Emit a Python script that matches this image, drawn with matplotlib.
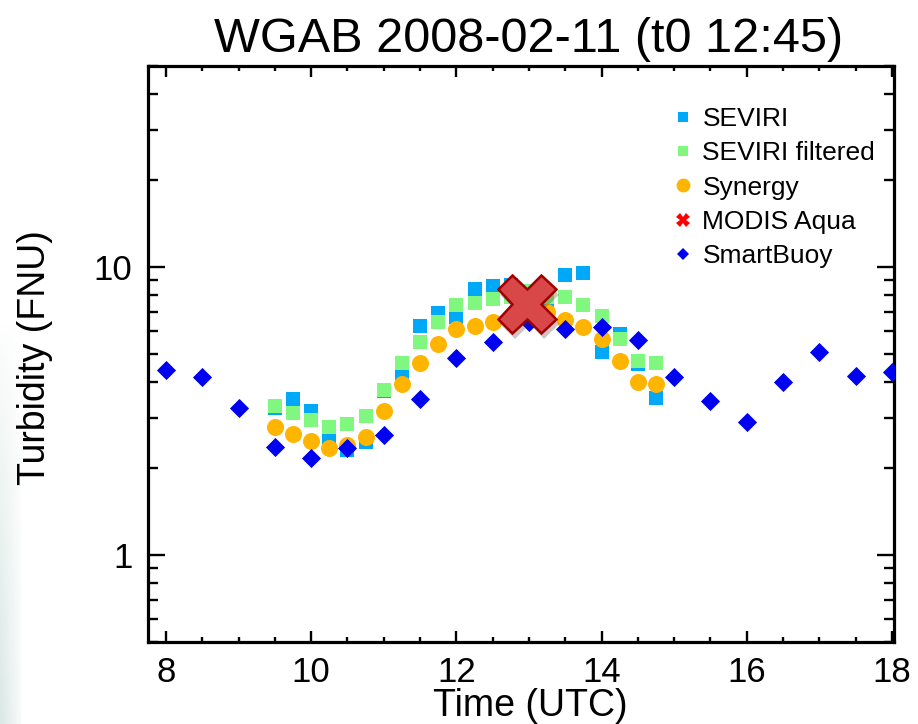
import numpy as np
import matplotlib
matplotlib.use("Agg")
from matplotlib import pyplot as plt
from matplotlib.lines import Line2D
from matplotlib.ticker import LogLocator, MultipleLocator, FixedLocator, NullFormatter
import matplotlib.patheffects as pe

plt.rcParams['font.family'] = ['Liberation Sans', 'DejaVu Sans']

# SEVIRI / Synergy time series (UTC hours)
t_sev = [9.5, 9.75, 10.0, 10.25, 10.5, 10.75, 11.0, 11.25, 11.5, 11.75, 12.0,
         12.25, 12.5, 12.75, 13.0, 13.25, 13.5, 13.75, 14.0, 14.25, 14.5, 14.75]
seviri = [3.24, 3.48, 3.17, 2.54, 2.31, 2.47, 3.72, 4.21, 6.24, 6.92, 6.69,
          8.42, 8.61, 8.7, 8.0, 7.62, 9.38, 9.52, 5.07, 5.85, 4.60, 3.50]
seviri_filt = [3.30, 3.11, 2.95, 2.79, 2.85, 3.04, 3.75, 4.64, 5.50, 6.46, 7.38,
               7.50, 7.74, 7.9, 8.28, 7.9, 7.85, 7.40, 6.77, 5.62, 4.73, 4.64]
synergy = [2.79, 2.63, 2.49, 2.36, 2.41, 2.58, 3.17, 3.92, 4.63, 5.40, 6.12,
           6.22, 6.43, 6.6, 6.8, 6.96, 6.56, 6.18, 5.65, 4.73, 4.00, 3.92]

# MODIS Aqua overpass
t_modis = [12.97]
modis = [7.45]

# SmartBuoy
t_buoy = [8.0, 8.5, 9.0, 9.5, 10.0, 10.5, 11.0, 11.5, 12.0, 12.5, 13.0,
          13.5, 14.0, 14.5, 15.0, 15.5, 16.0, 16.5, 17.0, 17.5, 18.0]
buoy = [4.38, 4.16, 3.25, 2.37, 2.17, 2.35, 2.61, 3.49, 4.82, 5.48, 6.45,
        6.12, 6.18, 5.58, 4.16, 3.44, 2.90, 3.99, 5.07, 4.19, 4.32]

labels = ["SEVIRI", "SEVIRI filtered", "Synergy", "MODIS Aqua", "SmartBuoy"]
c_sev = "#00a8f8"
c_filt = "#80f880"
c_syn = "#ffb400"
c_buoy = "#0000f0"
c_modis = "#ff0000"

fig = plt.figure(figsize=(9.18, 7.24), dpi=100)

# faint slide background on the left edge
bg = fig.add_axes([0, 0, 0.025, 0.56])
img = np.zeros((60, 20, 4))
img[..., 0] = 0.86
img[..., 1] = 0.91
img[..., 2] = 0.90
xa = np.linspace(1, 0, 20)[None, :] ** 0.8
ya = np.linspace(0, 1, 60)[:, None] ** 0.8
img[..., 3] = xa * ya
bg.imshow(img, aspect="auto", extent=[0, 1, 1, 0])
bg.axis("off")

ax = fig.add_axes([0.161, 0.1137, 0.813, 0.7953])

ax.scatter(t_sev, seviri, marker="s", s=90, color=c_sev, linewidths=0, zorder=3)
ax.scatter(t_sev, seviri_filt, marker="s", s=90, color=c_filt, linewidths=0, zorder=4)
ax.scatter(t_sev, synergy, marker="o", s=150, color=c_syn, linewidths=0, zorder=5)
ax.scatter(t_buoy, buoy, marker="D", s=95, color=c_buoy, linewidths=0, zorder=6)
ax.plot(t_modis, modis, marker="X", markersize=42, color="#d84848",
        markeredgecolor="#a00000", markeredgewidth=1.8, linestyle="none", zorder=7,
        path_effects=[pe.SimplePatchShadow(offset=(2, -4), alpha=0.25), pe.Normal()])

ax.set_yscale("log")
ax.set_xlim(7.75, 18.03)
ax.set_ylim(0.5, 50)

ax.xaxis.set_major_locator(MultipleLocator(2))
ax.xaxis.set_minor_locator(MultipleLocator(0.5))
ax.yaxis.set_major_locator(FixedLocator([1, 10]))
ax.yaxis.set_minor_locator(LogLocator(base=10, subs=np.arange(2, 10)))
ax.yaxis.set_minor_formatter(NullFormatter())
ax.set_yticklabels(["1", "10"])

for s in ax.spines.values():
    s.set_linewidth(2.3)
ax.tick_params(axis="both", which="both", direction="in", top=True, right=True,
               width=1.7, labelsize=25)
ax.tick_params(axis="x", which="major", length=8, pad=10)
ax.tick_params(axis="x", which="minor", length=3.5)
ax.tick_params(axis="y", which="major", length=12, pad=11)
ax.tick_params(axis="y", which="minor", length=7)

ax.set_xlabel("Time (UTC)", fontsize=27)
ax.xaxis.set_label_coords(0.512, -0.081)
ax.set_ylabel("Turbidity (FNU)", fontsize=27)
ax.yaxis.set_label_coords(-0.127, 0.494)

fig.text(0.576, 0.945, "WGAB 2008-02-11 (t0 12:45)", fontsize=35,
         ha="center", va="center")

handles = [
    Line2D([], [], marker="s", linestyle="none", color=c_sev, markersize=6.5, markeredgewidth=0),
    Line2D([], [], marker="s", linestyle="none", color=c_filt, markersize=6.5, markeredgewidth=0),
    Line2D([], [], marker="o", linestyle="none", color=c_syn, markersize=10, markeredgewidth=0),
    Line2D([], [], marker="X", linestyle="none", color=c_modis, markersize=10, markeredgewidth=0),
    Line2D([], [], marker="D", linestyle="none", color=c_buoy, markersize=6.5, markeredgewidth=0),
]
ax.legend(handles, labels, loc="upper left", bbox_to_anchor=(0.69, 0.947),
          frameon=False, fontsize=19, handlelength=0.7, handletextpad=0.4,
          labelspacing=0.39, borderaxespad=0)

fig.savefig("out.png", dpi=100)
